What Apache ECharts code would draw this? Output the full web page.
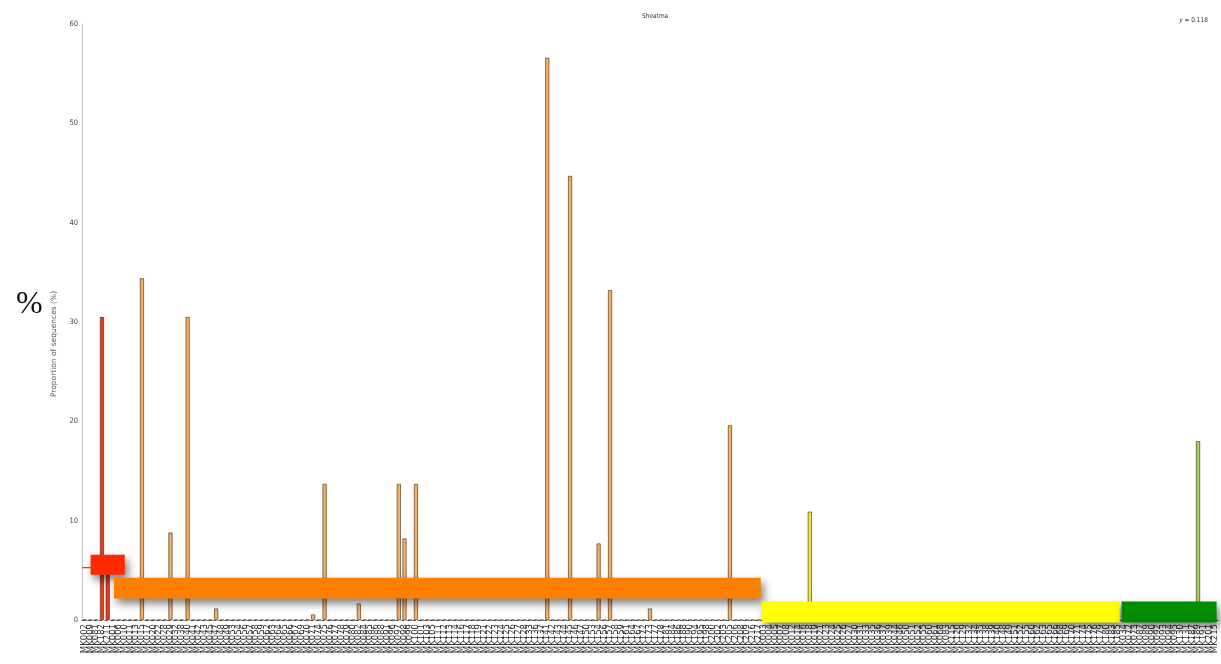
<!DOCTYPE html>
<html><head><meta charset="utf-8">
<script src="https://cdn.jsdelivr.net/npm/echarts@6/dist/echarts.min.js"></script>
<style>html,body{margin:0;padding:0;background:#fff}#c{width:1221px;height:664px}</style>
</head><body><div id="c"></div>
<script>
// ---- data ----
const chartTitle = 'Sheatma';
const statLabel = 'y';
const statValue = '0.118';
const yAxisName = 'Proportion of sequences (%)';
const sideLabel = '%';
const yTicks = [0, 10, 20, 30, 40, 50, 60];

const redNames = ['MK002','MK009','MK081','MK182','MK211'];
const redValues = [0, 0, 0, 30.5, 5.5];

const orangeNames = [
 'MK001','MK006','MK010','MK011','MK013','MK015','MK017','MK020','MK022','MK028',
 'MK029','MK032','MK038','MK040','MK041','MK042','MK043','MK045','MK047','MK048',
 'MK049','MK053','MK054','MK056','MK057','MK058','MK059','MK062','MK063','MK064',
 'MK065','MK066','MK067','MK069','MK070','MK071','MK074','MK075','MK076','MK077',
 'MK078','MK079','MK080','MK082','MK084','MK085','MK086','MK088','MK091','MK096',
 'MK097','MK098','MK099','MK100','MK101','MK103','MK105','MK111','MK112','MK113',
 'MK114','MK116','MK117','MK118','MK119','MK121','MK122','MK123','MK124','MK125',
 'MK126','MK127','MK128','MK133','MK136','MK137','MK141','MK142','MK143','MK144',
 'MK145','MK146','MK147','MK150','MK153','MK154','MK156','MK157','MK158','MK159',
 'MK161','MK164','MK167','MK172','MK173','MK177','MK178','MK181','MK184','MK186',
 'MK188','MK190','MK194','MK195','MK198','MK200','MK202','MK203','MK205','MK206',
 'MK208','MK209','MK216','MK217'
];
const orangeValues = [
 0,0,0,0,0,34.4,0,0,0,0,
 8.8,0,0,30.5,0,0,0,0,1.15,0,
 0,0,0,0,0,0,0,0,0,0,
 0,0,0,0,0,0.55,0,13.7,0,0,
 0,0,0,1.65,0,0,0,0,0,0,
 13.7,8.2,0,13.7,0,0,0,0,0,0,
 0,0,0,0,0,0,0,0,0,0,
 0,0,0,0,0,0,56.6,0,0,0,
 44.7,0,0,0,0,7.7,0,33.2,0,0,
 0,0,0,0,1.15,0,0,0,0,0,
 0,0,0,0,0,0,0,0,19.6,0,
 0,0,0,0
];

const yellowNames = [
 'MK003','MK004','MK005','MK007','MK008','MK012','MK014','MK016','MK018','MK019',
 'MK021','MK023','MK024','MK025','MK026','MK027','MK030','MK031','MK033','MK035',
 'MK036','MK037','MK039','MK044','MK046','MK050','MK051','MK052','MK055','MK060',
 'MK061','MK068','MK083','MK115','MK120','MK129','MK132','MK134','MK135','MK138',
 'MK139','MK140','MK148','MK149','MK151','MK152','MK155','MK160','MK162','MK163',
 'MK165','MK166','MK168','MK169','MK170','MK171','MK174','MK175','MK176','MK179',
 'MK180','MK183','MK185'
];
const yellowValues = [
 0,0,0,0,0,0,0,0,10.9,0,
 0,0,0,0,0,0,0,0,0,0,
 0,0,0,0,0,0,0,0,0,0,
 0,0,0,0,0,0,0,0,0,0,
 0,0,0,0,0,0,0,0,0,0,
 0,0,0,0,0,0,0,0,0,0,
 0,0,0
];

const greenNames = [
 'MK034','MK072','MK073','MK087','MK089','MK090','MK092','MK093','MK094','MK095',
 'MK130','MK131','MK187','MK189','MK191','MK201','MK215'
];
const greenValues = [0,0,0,0,0,0,0,0,0,0,0,0,0,18.0,0,0,0];

// group annotation bands, in category-index / value units
const bandStart  = [1, 5.1, 118.6, 181.6];
const bandEnd    = [7, 118.4, 181.3, 198.25];
const bandTop    = [6.57, 4.26, 1.86, 1.86];
const bandBottom = [4.56, 2.16, -0.25, -0.25];
const bandTail   = [5.27, null, null, null];

// ---- build ----
const categories = [].concat(redNames, orangeNames, yellowNames, greenNames);
const groupValues = [redValues, orangeValues, yellowValues, greenValues];
const barColors = ['#ea3a1e', '#f7ad62', '#eeea3c', '#a6d060'];
const bandColors = ['#ff2a00', '#ff8000', '#ffff00', '#008c00'];
const condensed = '"DejaVu Sans Condensed", "Liberation Sans Narrow", "DejaVu Sans", sans-serif';

let offset = 0;
const barSeries = groupValues.map((vals, g) => {
  const data = categories.map(() => '-');
  vals.forEach((v, k) => { data[offset + k] = v; });
  offset += vals.length;
  return {
    type: 'bar', data, barWidth: 4, barGap: '-100%', z: 2,
    itemStyle: { color: barColors[g], borderColor: '#3a2616', borderWidth: 0.6 },
    emphasis: { disabled: true }
  };
});

const bandSeries = {
  type: 'custom', z: 10, silent: true,
  data: bandColors.map((c, i) => [i, 0]),
  renderItem(params, api) {
    const i = params.dataIndex;
    const band = api.size([1, 0])[0];
    const x0 = api.coord([0, 0])[0];
    const X = v => x0 + v * band;
    const yT = api.coord([0, bandTop[i]])[1];
    const yB = api.coord([0, bandBottom[i]])[1];
    const children = [];
    if (bandTail[i] != null) {
      const yl = api.coord([0, bandTail[i]])[1];
      children.push({ type: 'line', shape: { x1: X(-0.5), y1: yl, x2: X(bandStart[i]), y2: yl },
        style: { stroke: bandColors[i], lineWidth: 1.2 } });
    }
    children.push({ type: 'rect',
      shape: { x: X(bandStart[i]), y: yT, width: X(bandEnd[i]) - X(bandStart[i]), height: yB - yT },
      style: { fill: bandColors[i], shadowBlur: 9, shadowColor: 'rgba(0,0,0,0.5)', shadowOffsetX: 3, shadowOffsetY: 5 } });
    return { type: 'group', children };
  }
};

const chart = echarts.init(document.getElementById('c'), null, { renderer: 'canvas' });
chart.setOption({
  animation: false,
  backgroundColor: '#fff',
  title: [
    { text: chartTitle, left: 637, top: 8, textStyle: { fontSize: 6.5, fontWeight: 'normal', color: '#333', fontFamily: condensed } },
    { text: '{i|' + statLabel + '} = ' + statValue, right: 8, top: 12,
      textStyle: { fontSize: 6.5, fontWeight: 'normal', color: '#333', fontFamily: condensed,
        rich: { i: { fontStyle: 'italic', fontSize: 6.5, color: '#333', fontFamily: condensed } } } },
    { text: sideLabel, left: 11, top: 284, textStyle: { fontSize: 32, fontWeight: 'normal', color: '#111', fontFamily: '"Liberation Serif", "DejaVu Serif", serif' } }
  ],
  grid: { left: 82, right: 3, top: 24, bottom: 44, containLabel: false },
  xAxis: {
    type: 'category', data: categories, boundaryGap: true,
    axisTick: { show: false },
    axisLine: { show: true, lineStyle: { color: '#666', width: 1, type: [3, 2.7] } },
    axisLabel: { interval: 0, rotate: 90, fontSize: 8.5, color: '#333', margin: 4, fontFamily: '"DejaVu Sans", sans-serif' },
    splitLine: { show: false }
  },
  yAxis: {
    type: 'value', min: yTicks[0], max: yTicks[yTicks.length - 1], interval: 10,
    name: yAxisName, nameLocation: 'middle', nameGap: 10, nameRotate: 90,
    nameTextStyle: { fontSize: 7.5, color: '#555', fontFamily: '"DejaVu Sans", sans-serif', padding: [0, 44, 0, 0] },
    axisLine: { show: true, lineStyle: { color: '#c8c8c8', width: 1.2 } },
    axisTick: { show: false },
    axisLabel: { fontSize: 7.5, color: '#444', margin: 4, fontFamily: condensed },
    splitLine: { show: false }
  },
  series: barSeries.concat([bandSeries])
});
</script>
</body></html>
